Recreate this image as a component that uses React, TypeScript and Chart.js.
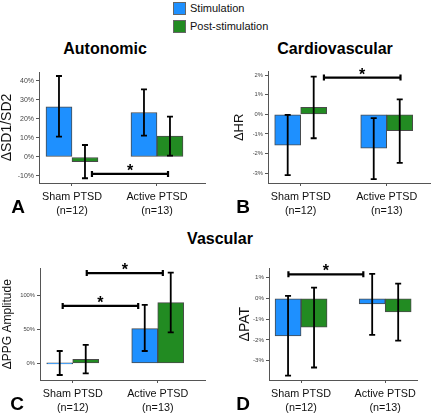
import React, { useEffect, useRef } from "react";
import { Chart, registerables } from "chart.js";
Chart.register(...registerables);

const groups = ["Sham PTSD", "Active PTSD"];
const groupN = ["(n=12)", "(n=13)"];
const groupX = [0, 1];
const seriesNames = ["Stimulation", "Post-stimulation"];
const seriesColors = ["#1E90FF", "#228B22"];

// A - Autonomic (ΔSD1/SD2, %)
const sd1Stim = [26.4, 23.4];
const sd1StimLow = [10.7, 11.2];
const sd1StimHigh = [42.6, 35.6];
const sd1Post = [-2.5, 11.0];
const sd1PostLow = [-11.2, 0.7];
const sd1PostHigh = [6.3, 21.2];
const sd1Ticks = [-10, 0, 10, 20, 30, 40];
const sd1SigFrom = [0.235];
const sd1SigTo = [1.13];
const sd1SigY = [-8.9];

// B - Cardiovascular (ΔHR, %)
const hrStim = [-1.57, -1.73];
const hrStimLow = [-3.1, -3.3];
const hrStimHigh = [-0.03, -0.2];
const hrPost = [0.36, -0.83];
const hrPostLow = [-1.22, -2.47];
const hrPostHigh = [1.92, 0.76];
const hrTicks = [-3, -2, -1, 0, 1, 2];
const hrSigFrom = [0.27];
const hrSigTo = [1.16];
const hrSigY = [1.87];

// C - Vascular (ΔPPG Amplitude, %)
const ppgStim = [0.0, 51.5];
const ppgStimLow = [-17.3, 18.3];
const ppgStimHigh = [18.3, 86.6];
const ppgPost = [6.0, 90.0];
const ppgPostLow = [-14.9, 46.0];
const ppgPostHigh = [27.2, 134.5];
const ppgTicks = [0, 50, 100];
const ppgSigFrom = [-0.118, 0.165];
const ppgSigTo = [0.77, 1.06];
const ppgSigY = [85, 133.7];

// D - Vascular (ΔPAT, %)
const patStim = [-1.81, -0.27];
const patStimLow = [-3.72, -1.76];
const patStimHigh = [0.11, 1.17];
const patPost = [-1.39, -0.66];
const patPostLow = [-3.33, -2.04];
const patPostHigh = [0.51, 0.7];
const patTicks = [-3, -2, -1, 0, 1];
const patSigFrom = [-0.15];
const patSigTo = [0.74];
const patSigY = [1.15];

const FONT = "'Liberation Sans', Arial, sans-serif";

type Panel = {
  left: number; top: number; width: number; height: number;
  padTop: number; padRight: number; yW: number; xH: number;
  xMin: number; xMax: number; yMin: number; yMax: number;
  yTicks: number[]; yTitle: string; yTitleSize: number; yTitlePad: number; tickSize: number;
  stim: number[]; stimLow: number[]; stimHigh: number[];
  post: number[]; postLow: number[]; postHigh: number[];
  sigFrom: number[]; sigTo: number[]; sigY: number[];
};

const panels: Panel[] = [
  {
    left: 0, top: 58, width: 206, height: 164, padTop: 14, padRight: 1, yW: 39, xH: 39,
    xMin: -0.388, xMax: 1.565, yMin: -13.7, yMax: 44.7, yTicks: sd1Ticks,
    yTitle: "ΔSD1/SD2", yTitleSize: 14, yTitlePad: 0, tickSize: 7,
    stim: sd1Stim, stimLow: sd1StimLow, stimHigh: sd1StimHigh,
    post: sd1Post, postLow: sd1PostLow, postHigh: sd1PostHigh,
    sigFrom: sd1SigFrom, sigTo: sd1SigTo, sigY: sd1SigY,
  },
  {
    left: 233, top: 58, width: 198, height: 164, padTop: 13.7, padRight: 1, yW: 35, xH: 39,
    xMin: -0.38, xMax: 1.503, yMin: -3.5, yMax: 2.17, yTicks: hrTicks,
    yTitle: "ΔHR", yTitleSize: 13, yTitlePad: 0, tickSize: 5.8,
    stim: hrStim, stimLow: hrStimLow, stimHigh: hrStimHigh,
    post: hrPost, postLow: hrPostLow, postHigh: hrPostHigh,
    sigFrom: hrSigFrom, sigTo: hrSigTo, sigY: hrSigY,
  },
  {
    left: 0, top: 254, width: 206, height: 160, padTop: 14.3, padRight: 1, yW: 40, xH: 34,
    xMin: -0.385, xMax: 1.556, yMin: -24.7, yMax: 140.8, yTicks: ppgTicks,
    yTitle: "ΔPPG Amplitude", yTitleSize: 12, yTitlePad: 2, tickSize: 5.8,
    stim: ppgStim, stimLow: ppgStimLow, stimHigh: ppgStimHigh,
    post: ppgPost, postLow: ppgPostLow, postHigh: ppgPostHigh,
    sigFrom: ppgSigFrom, sigTo: ppgSigTo, sigY: ppgSigY,
  },
  {
    left: 238, top: 254, width: 182, height: 160, padTop: 14.3, padRight: 1, yW: 31, xH: 34,
    xMin: -0.381, xMax: 1.38, yMin: -3.93, yMax: 1.44, yTicks: patTicks,
    yTitle: "ΔPAT", yTitleSize: 14, yTitlePad: 0, tickSize: 6.2,
    stim: patStim, stimLow: patStimLow, stimHigh: patStimHigh,
    post: patPost, postLow: patPostLow, postHigh: patPostHigh,
    sigFrom: patSigFrom, sigTo: patSigTo, sigY: patSigY,
  },
];

function PanelChart({ p }: { p: Panel }) {
  const ref = useRef<HTMLCanvasElement>(null);
  useEffect(() => {
    const canvas = ref.current!;
    const overlay = {
      id: "overlay",
      afterDatasetsDraw(chart: any) {
        const { ctx } = chart;
        const x = chart.scales.x;
        const y = chart.scales.y;
        ctx.save();
        ctx.strokeStyle = "#000";
        ctx.lineWidth = 1.8;
        const errs = [
          [p.stimLow, p.stimHigh],
          [p.postLow, p.postHigh],
        ];
        errs.forEach(([lo, hi], d) => {
          const meta = chart.getDatasetMeta(d);
          meta.data.forEach((bar: any, i: number) => {
            const bx = bar.x;
            const y1 = y.getPixelForValue(lo[i]);
            const y2 = y.getPixelForValue(hi[i]);
            ctx.beginPath();
            ctx.moveTo(bx, y1);
            ctx.lineTo(bx, y2);
            ctx.moveTo(bx - 3, y1);
            ctx.lineTo(bx + 3, y1);
            ctx.moveTo(bx - 3, y2);
            ctx.lineTo(bx + 3, y2);
            ctx.stroke();
          });
        });
        ctx.lineWidth = 2.2;
        p.sigY.forEach((sv, k) => {
          const x1 = x.getPixelForValue(p.sigFrom[k]);
          const x2 = x.getPixelForValue(p.sigTo[k]);
          const yy = y.getPixelForValue(sv);
          ctx.beginPath();
          ctx.moveTo(x1, yy);
          ctx.lineTo(x2, yy);
          ctx.moveTo(x1, yy - 3);
          ctx.lineTo(x1, yy + 3);
          ctx.moveTo(x2, yy - 3);
          ctx.lineTo(x2, yy + 3);
          ctx.stroke();
          ctx.fillStyle = "#000";
          ctx.font = `bold 16px ${FONT}`;
          ctx.textAlign = "center";
          ctx.textBaseline = "alphabetic";
          ctx.fillText("*", (x1 + x2) / 2, yy + 2);
        });
        ctx.restore();
      },
    };
    const mk = (vals: number[], idx: number) => ({
      label: seriesNames[idx],
      data: groupX.map((gx, i) => ({ x: gx, y: vals[i] })),
      backgroundColor: seriesColors[idx],
      borderColor: "#4a4a4a",
      borderWidth: 1,
      borderSkipped: false,
      barThickness: 26,
      minBarLength: 1,
    });
    const chart = new Chart(canvas, {
      type: "bar",
      data: { datasets: [mk(p.stim, 0), mk(p.post, 1)] as any },
      options: {
        animation: false,
        responsive: false,
        devicePixelRatio: 1,
        events: [],
        layout: { padding: { top: p.padTop, right: p.padRight, left: 0, bottom: 0 } },
        plugins: { legend: { display: false }, tooltip: { enabled: false } },
        scales: {
          x: {
            type: "linear",
            min: p.xMin,
            max: p.xMax,
            offset: false,
            grid: { display: true, drawOnChartArea: false, drawTicks: true, tickLength: 3, color: "#555", offset: false },
            border: { display: true, color: "#555", width: 1 },
            ticks: {
              autoSkip: false,
              maxRotation: 0,
              minRotation: 0,
              padding: 4,
              color: "#111",
              font: { family: FONT, size: 10.8, lineHeight: 14 / 10.8 },
              callback: (_v: any, i: number) => [groups[i], groupN[i]],
            },
            afterBuildTicks: (s: any) => {
              s.ticks = groupX.map((v) => ({ value: v }));
            },
            afterFit: (s: any) => {
              s.height = p.xH;
            },
          },
          y: {
            type: "linear",
            min: p.yMin,
            max: p.yMax,
            grid: { display: true, drawOnChartArea: false, drawTicks: true, tickLength: 3, color: "#555" },
            border: { display: true, color: "#555", width: 1 },
            ticks: {
              padding: 2,
              color: "#444",
              font: { family: FONT, size: p.tickSize },
              callback: (v: any) => `${v}%`,
            },
            afterBuildTicks: (s: any) => {
              s.ticks = p.yTicks.map((v) => ({ value: v }));
            },
            afterFit: (s: any) => {
              s.width = p.yW;
            },
            title: {
              display: true,
              text: p.yTitle,
              color: "#111",
              font: { family: FONT, size: p.yTitleSize, lineHeight: 1 },
              padding: { top: p.yTitlePad, bottom: 0 },
            },
          },
        },
      } as any,
      plugins: [overlay],
    });
    return () => chart.destroy();
  }, []);
  return (
    <canvas
      ref={ref}
      width={p.width}
      height={p.height}
      style={{ position: "absolute", left: p.left, top: p.top, width: p.width, height: p.height }}
    />
  );
}

const textAbs = (x: number, y: number, size: number, bold: boolean): React.CSSProperties => ({
  position: "absolute",
  left: x,
  top: y,
  transform: "translate(-50%, -50%)",
  fontFamily: FONT,
  fontSize: size,
  fontWeight: bold ? 700 : 400,
  color: "#000",
  whiteSpace: "nowrap",
  lineHeight: 1,
});

export default function App() {
  return (
    <div
      style={{
        position: "fixed",
        left: 0,
        top: 0,
        width: 440,
        height: 414,
        background: "#fff",
        overflow: "hidden",
      }}
    >
      {panels.map((p, i) => (
        <PanelChart key={i} p={p} />
      ))}
      {/* legend */}
      {seriesNames.map((s, i) => (
        <React.Fragment key={s}>
          <div
            style={{
              position: "absolute",
              left: 173,
              top: 2 + i * 18,
              width: 11,
              height: 11,
              background: seriesColors[i],
              border: "1px solid #666",
            }}
          />
          <div
            style={{
              position: "absolute",
              left: 190,
              top: 8 + i * 18,
              transform: "translateY(-50%)",
              fontFamily: FONT,
              fontSize: 11,
              lineHeight: 1,
              color: "#111",
              whiteSpace: "nowrap",
            }}
          >
            {s}
          </div>
        </React.Fragment>
      ))}
      <div style={textAbs(105, 49, 16, true)}>Autonomic</div>
      <div style={textAbs(335, 49, 16, true)}>Cardiovascular</div>
      <div style={textAbs(220, 239, 16, true)}>Vascular</div>
      <div style={textAbs(18, 206, 19, true)}>A</div>
      <div style={textAbs(243, 206, 19, true)}>B</div>
      <div style={textAbs(17, 403, 19, true)}>C</div>
      <div style={textAbs(243, 403, 19, true)}>D</div>
    </div>
  );
}
